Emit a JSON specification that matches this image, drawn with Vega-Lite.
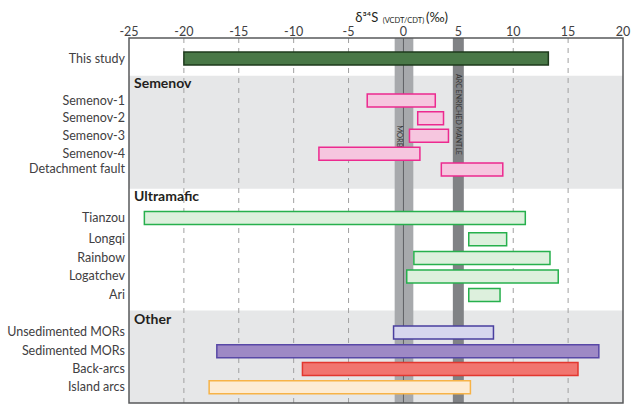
{
  "$schema": "https://vega.github.io/schema/vega-lite/v6.json",
  "width": 494,
  "height": 375,
  "autosize": {"type": "none"},
  "padding": {"left": 129, "top": 33, "right": 17, "bottom": 8},
  "background": "white",
  "config": {"view": {"stroke": null}, "font": "Lato"},
  "data": {"values": [{"anchor": 1}]},
  "layer": [
    {
      "data": {"values": [
        {"group": "Semenov", "y0": 2.17, "y1": 8.68},
        {"group": "Other", "y0": 15.68, "y1": 21}
      ]},
      "mark": {"type": "rect", "fill": "#e6e7e8"},
      "encoding": {
        "x": {"datum": -25, "type": "quantitative", "scale": {"domain": [-25, 20], "nice": false, "zero": false}, "axis": null},
        "x2": {"datum": 20},
        "y": {"field": "y0", "type": "quantitative", "scale": {"domain": [0, 21], "nice": false, "zero": false, "reverse": true}, "axis": null},
        "y2": {"field": "y1"}
      }
    },
    {
      "data": {"values": [{"g": -20}, {"g": -15}, {"g": -10}, {"g": -5}, {"g": 0}, {"g": 5}, {"g": 10}, {"g": 15}]},
      "mark": {"type": "rule", "stroke": "#a0a0a0", "strokeWidth": 1, "strokeDash": [5, 5]},
      "encoding": {
        "x": {"field": "g", "type": "quantitative", "scale": {"domain": [-25, 20], "nice": false, "zero": false}, "axis": null},
        "y": {"datum": 0, "type": "quantitative", "scale": {"domain": [0, 21], "nice": false, "zero": false, "reverse": true}, "axis": null},
        "y2": {"datum": 21}
      }
    },
    {
      "mark": {"type": "rect", "fill": "#a7a9ac"},
      "encoding": {
        "x": {"datum": -0.8, "type": "quantitative", "scale": {"domain": [-25, 20], "nice": false, "zero": false}, "axis": null},
        "x2": {"datum": 0.9},
        "y": {"datum": 0, "type": "quantitative", "scale": {"domain": [0, 21], "nice": false, "zero": false, "reverse": true}, "axis": null},
        "y2": {"datum": 21}
      }
    },
    {
      "mark": {"type": "rect", "fill": "#808285"},
      "encoding": {
        "x": {"datum": 4.5, "type": "quantitative", "scale": {"domain": [-25, 20], "nice": false, "zero": false}, "axis": null},
        "x2": {"datum": 5.5},
        "y": {"datum": 0, "type": "quantitative", "scale": {"domain": [0, 21], "nice": false, "zero": false, "reverse": true}, "axis": null},
        "y2": {"datum": 21}
      }
    },
    {
      "mark": {"type": "rule", "stroke": "#5f6064", "strokeWidth": 1},
      "encoding": {
        "x": {"datum": 0, "type": "quantitative", "scale": {"domain": [-25, 20], "nice": false, "zero": false}, "axis": null},
        "y": {"datum": 0, "type": "quantitative", "scale": {"domain": [0, 21], "nice": false, "zero": false, "reverse": true}, "axis": null},
        "y2": {"datum": 21}
      }
    },
    {
      "mark": {"type": "text", "text": "MORB", "angle": 90, "fontSize": 7.5, "fill": "#333333", "align": "center", "baseline": "middle"},
      "encoding": {
        "x": {"datum": -0.42, "type": "quantitative", "scale": {"domain": [-25, 20], "nice": false, "zero": false}, "axis": null},
        "y": {"datum": 5.66, "type": "quantitative", "scale": {"domain": [0, 21], "nice": false, "zero": false, "reverse": true}, "axis": null}
      }
    },
    {
      "mark": {"type": "text", "text": "ARC ENRICHED MANTLE", "angle": 90, "fontSize": 7, "fill": "#333333", "align": "center", "baseline": "middle"},
      "encoding": {
        "x": {"datum": 5.0, "type": "quantitative", "scale": {"domain": [-25, 20], "nice": false, "zero": false}, "axis": null},
        "y": {"datum": 4.4, "type": "quantitative", "scale": {"domain": [0, 21], "nice": false, "zero": false, "reverse": true}, "axis": null}
      }
    },
    {
      "data": {"name": "bars", "values": [
        {"name": "This study", "set": "This study", "lo": -20, "hi": 13.2, "row": 1.18},
        {"name": "Semenov-1", "set": "Semenov", "lo": -3.3, "hi": 2.9, "row": 3.6},
        {"name": "Semenov-2", "set": "Semenov", "lo": 1.3, "hi": 3.65, "row": 4.61},
        {"name": "Semenov-3", "set": "Semenov", "lo": 0.55, "hi": 4.1, "row": 5.63},
        {"name": "Semenov-4", "set": "Semenov", "lo": -7.7, "hi": 1.5, "row": 6.66},
        {"name": "Detachment fault", "set": "Semenov", "lo": 3.45, "hi": 9.05, "row": 7.56},
        {"name": "Tianzou", "set": "Ultramafic", "lo": -23.6, "hi": 11.1, "row": 10.36},
        {"name": "Longqi", "set": "Ultramafic", "lo": 5.95, "hi": 9.4, "row": 11.58},
        {"name": "Rainbow", "set": "Ultramafic", "lo": 0.95, "hi": 13.35, "row": 12.66},
        {"name": "Logatchev", "set": "Ultramafic", "lo": 0.3, "hi": 14.1, "row": 13.72},
        {"name": "Ari", "set": "Ultramafic", "lo": 5.95, "hi": 8.8, "row": 14.78},
        {"name": "Unsedimented MORs", "set": "Unsedimented MORs", "lo": -0.9, "hi": 8.2, "row": 16.94},
        {"name": "Sedimented MORs", "set": "Sedimented MORs", "lo": -17, "hi": 17.8, "row": 18.02},
        {"name": "Back-arcs", "set": "Back-arcs", "lo": -9.2, "hi": 15.9, "row": 19.04},
        {"name": "Island arcs", "set": "Island arcs", "lo": -17.7, "hi": 6.1, "row": 20.1}
      ]},
      "layer": [
        {
          "mark": {"type": "bar", "height": 13, "strokeWidth": 1.5},
          "encoding": {
            "x": {"field": "lo", "type": "quantitative", "scale": {"domain": [-25, 20], "nice": false, "zero": false}, "axis": null},
            "x2": {"field": "hi"},
            "y": {"field": "row", "type": "quantitative", "scale": {"domain": [0, 21], "nice": false, "zero": false, "reverse": true}, "axis": null},
            "fill": {"field": "set", "type": "nominal", "legend": null,
              "scale": {"domain": ["This study", "Semenov", "Ultramafic", "Unsedimented MORs", "Sedimented MORs", "Back-arcs", "Island arcs"],
                "range": ["#497847", "#f6c6df", "#ddf0dd", "#d6d6ee", "#9e89c5", "#f1756f", "#fdecd4"]}},
            "stroke": {"field": "set", "type": "nominal", "legend": null,
              "scale": {"domain": ["This study", "Semenov", "Ultramafic", "Unsedimented MORs", "Sedimented MORs", "Back-arcs", "Island arcs"],
                "range": ["#1e3a1d", "#ec2a8f", "#27b04d", "#4a3f9f", "#5848a6", "#e2372f", "#f7b347"]}}
          }
        },
        {
          "mark": {"type": "text", "align": "right", "baseline": "middle", "dx": -4, "fontSize": 12.5, "fill": "#414042"},
          "encoding": {
            "x": {"datum": -25, "type": "quantitative", "scale": {"domain": [-25, 20], "nice": false, "zero": false}, "axis": null},
            "y": {"field": "row", "type": "quantitative", "scale": {"domain": [0, 21], "nice": false, "zero": false, "reverse": true}, "axis": null},
            "text": {"field": "name"}
          }
        }
      ]
    },
    {
      "data": {"values": [
        {"header": "Semenov", "row": 2.67},
        {"header": "Ultramafic", "row": 9.13},
        {"header": "Other", "row": 16.24}
      ]},
      "mark": {"type": "text", "align": "left", "baseline": "middle", "dx": 5, "fontSize": 14, "fontWeight": "bold", "fill": "#231f20"},
      "encoding": {
        "x": {"datum": -25, "type": "quantitative", "scale": {"domain": [-25, 20], "nice": false, "zero": false}, "axis": null},
        "y": {"field": "row", "type": "quantitative", "scale": {"domain": [0, 21], "nice": false, "zero": false, "reverse": true}, "axis": null},
        "text": {"field": "header"}
      }
    },
    {
      "data": {"values": [{"tick": -25}, {"tick": -20}, {"tick": -15}, {"tick": -10}, {"tick": -5}, {"tick": 0}, {"tick": 5}, {"tick": 10}, {"tick": 15}, {"tick": 20}]},
      "mark": {"type": "text", "align": "center", "baseline": "alphabetic", "dy": -2, "fontSize": 12.5, "fill": "#414042"},
      "encoding": {
        "x": {"field": "tick", "type": "quantitative", "scale": {"domain": [-25, 20], "nice": false, "zero": false}, "axis": null},
        "y": {"datum": 0, "type": "quantitative", "scale": {"domain": [0, 21], "nice": false, "zero": false, "reverse": true}, "axis": null},
        "text": {"field": "tick", "type": "nominal"}
      }
    },
    {
      "mark": {"type": "text", "text": "δ³⁴S", "align": "right", "baseline": "middle", "fontSize": 13, "fill": "#231f20"},
      "encoding": {
        "x": {"datum": -2.3, "type": "quantitative", "scale": {"domain": [-25, 20], "nice": false, "zero": false}, "axis": null},
        "y": {"datum": -1.15, "type": "quantitative", "scale": {"domain": [0, 21], "nice": false, "zero": false, "reverse": true}, "axis": null}
      }
    },
    {
      "mark": {"type": "text", "text": "(VCDT/CDT)", "align": "center", "baseline": "middle", "fontSize": 7.5, "fill": "#231f20"},
      "encoding": {
        "x": {"datum": 0, "type": "quantitative", "scale": {"domain": [-25, 20], "nice": false, "zero": false}, "axis": null},
        "y": {"datum": -0.95, "type": "quantitative", "scale": {"domain": [0, 21], "nice": false, "zero": false, "reverse": true}, "axis": null}
      }
    },
    {
      "mark": {"type": "text", "text": "(‰)", "align": "left", "baseline": "middle", "fontSize": 13, "fill": "#231f20"},
      "encoding": {
        "x": {"datum": 2.05, "type": "quantitative", "scale": {"domain": [-25, 20], "nice": false, "zero": false}, "axis": null},
        "y": {"datum": -1.15, "type": "quantitative", "scale": {"domain": [0, 21], "nice": false, "zero": false, "reverse": true}, "axis": null}
      }
    },
    {
      "mark": {"type": "rect", "fill": null, "stroke": "#58595b", "strokeWidth": 1.5},
      "encoding": {
        "x": {"datum": -25, "type": "quantitative", "scale": {"domain": [-25, 20], "nice": false, "zero": false}, "axis": null},
        "x2": {"datum": 20},
        "y": {"datum": 0, "type": "quantitative", "scale": {"domain": [0, 21], "nice": false, "zero": false, "reverse": true}, "axis": null},
        "y2": {"datum": 21}
      }
    }
  ]
}
